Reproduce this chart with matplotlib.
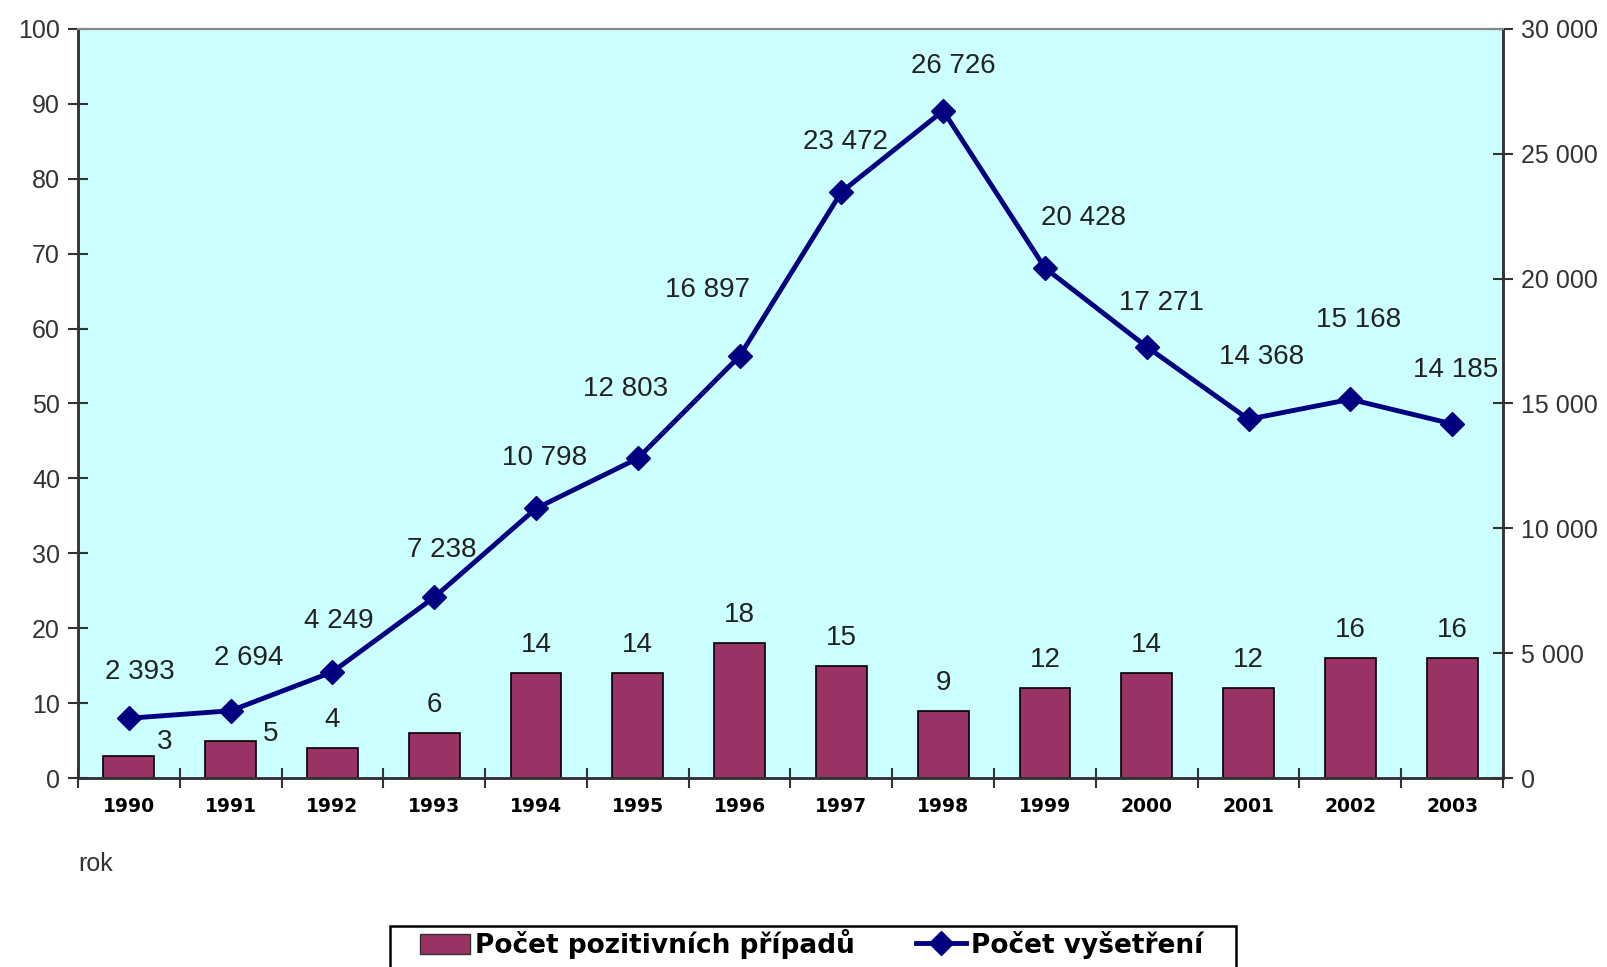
import matplotlib.pyplot as plt
from matplotlib.patches import Patch, Rectangle
from matplotlib.lines import Line2D
from matplotlib.ticker import FuncFormatter

# yearly counts
years = ['1990', '1991', '1992', '1993', '1994', '1995', '1996',
         '1997', '1998', '1999', '2000', '2001', '2002', '2003']
positive = [3, 5, 4, 6, 14, 14, 18, 15, 9, 12, 14, 12, 16, 16]
tests = [2393, 2694, 4249, 7238, 10798, 12803, 16897,
         23472, 26726, 20428, 17271, 14368, 15168, 14185]

# label offsets in pixels (dx, dy) for the test counts and the bar values
test_offsets = [(11, 46), (18, 53), (6, 51), (8, 47), (9, 50), (-12, 69), (-32, 66),
                (4, 50), (10, 45), (39, 50), (15, 44), (13, 62), (8, 79), (4, 54)]
bar_offsets = [(36, 14), (40, 7)] + [(0, 28)] * 12

bar_color = '#993366'
line_color = '#000080'
bg_color = '#CCFFFF'

def thousands(v, pos=None):
    return f'{int(v):,}'.replace(',', ' ')

fig = plt.figure(figsize=(16.08, 9.67), dpi=100)
ax = fig.add_axes([78/1608, 1-778/967, (1503-78)/1608, (778-29)/967])
ax.set_facecolor(bg_color)

x = range(len(years))
ax.bar(x, positive, width=0.5, color=bar_color, edgecolor='black', linewidth=1.2, zorder=2)
ax.set_xlim(-0.5, len(years) - 0.5)
ax.set_ylim(0, 100)
ax.set_yticks(range(0, 101, 10))

ax2 = ax.twinx()
ax2.plot(x, tests, color=line_color, linewidth=3.5, marker='D', markersize=12, zorder=3)
ax2.set_ylim(0, 30000)
ax2.set_yticks(range(0, 30001, 5000))
ax2.yaxis.set_major_formatter(FuncFormatter(thousands))

num_font = dict(family='Liberation Sans', size=20, color='#222222')
for i, v in enumerate(positive):
    ax.annotate(str(v), (i, v), xytext=bar_offsets[i], textcoords='offset pixels',
                ha='center', va='center', **num_font)
for i, v in enumerate(tests):
    ax2.annotate(thousands(v), (i, v), xytext=test_offsets[i], textcoords='offset pixels',
                 ha='center', va='center', **num_font)

# year labels centred on bars, tick marks between categories
ax.set_xticks([i - 0.5 for i in range(len(years) + 1)])
ax.set_xticklabels([])
ax.set_xticks(list(x), minor=True)
ax.set_xticklabels(years, minor=True, fontfamily='DejaVu Sans', fontweight='bold', fontsize=13.5)
ax.tick_params(axis='x', which='minor', length=0, pad=14)
ax.tick_params(axis='x', which='major', direction='inout', length=14, width=1.5, color='#333333')

for a in (ax, ax2):
    a.tick_params(axis='y', direction='inout', length=14, width=1.5, color='#333333',
                  labelsize=18, labelcolor='#333333', pad=6)
    for lbl in a.get_yticklabels():
        lbl.set_fontfamily('Liberation Sans')
    a.spines['top'].set_color('#888888')
    a.spines['top'].set_linewidth(1.5)
    for s in ('left', 'right', 'bottom'):
        a.spines[s].set_color('#333333')
        a.spines[s].set_linewidth(1.8)

fig.text(78/1608, 1-864/967, 'rok', fontfamily='Liberation Sans', fontsize=18,
         color='#333333', va='center')

# legend box runs off the bottom edge
fig.patches.append(Rectangle((390/1608, -0.05), (1236-390)/1608, 0.05 + 1-926/967,
                             transform=fig.transFigure, facecolor='white',
                             edgecolor='black', linewidth=1.8))
handles = [Patch(facecolor=bar_color, edgecolor='#333333'),
           Line2D([], [], color=line_color, linewidth=3.5, marker='D', markersize=12)]
fig.legend(handles, ['Počet pozitivních případů', 'Počet vyšetření'],
           loc='upper left', bbox_to_anchor=(420/1608, 1-929/967), ncol=2,
           prop=dict(family='DejaVu Sans', weight='bold', size=19),
           frameon=False, handlelength=1.9, handleheight=0.8, handletextpad=0.2,
           columnspacing=2.3, borderpad=0, borderaxespad=0)

fig.savefig('out.png', dpi=100)
